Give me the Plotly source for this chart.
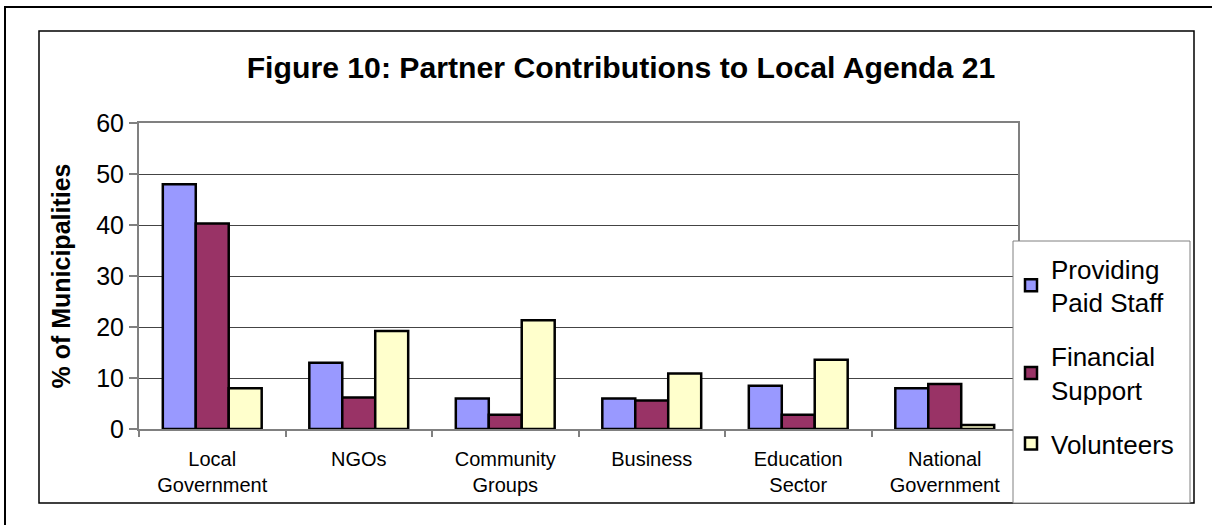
import plotly.graph_objects as go

categories = ["Local<br>Government", "NGOs", "Community<br>Groups", "Business",
              "Education<br>Sector", "National<br>Government"]
paid_staff = [48, 13, 6, 6, 8.5, 8]
financial = [40.3, 6.2, 2.8, 5.6, 2.8, 8.8]
volunteers = [8, 19.2, 21.3, 10.9, 13.6, 0.8]
series_names = ["Providing<br>Paid Staff", "Financial<br>Support", "Volunteers"]
series_colors = ["#9999FF", "#993366", "#FFFFCC"]
y_ticks = [0, 10, 20, 30, 40, 50, 60]

W, H = 1212, 525
L, R, T, B = 139, 1018, 123, 429  # plot area pixel bounds

def px_x(x):
    return (x - L) / (R - L)

def px_y(y):
    return (B - y) / (B - T)

FONT = "Liberation Sans, Arial, sans-serif"

fig = go.Figure()
for name, vals, col in zip(series_names, [paid_staff, financial, volunteers], series_colors):
    fig.add_trace(go.Bar(
        x=categories, y=vals, name=name, legendgroup=name,
        marker=dict(color=col, line=dict(color="#000000", width=2.5)),
    ))

shapes = [
    # outer border
    dict(type="rect", xref="paper", yref="paper", x0=px_x(5), x1=px_x(1230),
         y0=px_y(560), y1=px_y(7), line=dict(color="#000000", width=2), layer="below"),
    # inner chart border
    dict(type="rect", xref="paper", yref="paper", x0=px_x(39), x1=px_x(1194),
         y0=px_y(503), y1=px_y(31), line=dict(color="#000000", width=1.5), layer="below"),
    # legend box
    dict(type="rect", xref="paper", yref="paper", x0=px_x(1013), x1=px_x(1190),
         y0=px_y(503), y1=px_y(241), line=dict(color="#808080", width=1),
         fillcolor="#FFFFFF", layer="above"),
]

fig.update_layout(
    width=W, height=H,
    margin=dict(l=L, r=W - R, t=T, b=H - B),
    paper_bgcolor="#FFFFFF", plot_bgcolor="#FFFFFF",
    barmode="group", bargap=0.325, bargroupgap=0,
    font=dict(family=FONT, color="#000000"),
    title=dict(text="<b>Figure 10: Partner Contributions to Local Agenda 21</b>",
               x=621 / W, xanchor="center",
               y=1 - 67 / H, yanchor="middle",
               font=dict(family=FONT, size=30.2, color="#000000")),
    xaxis=dict(
        type="category", tickson="boundaries", ticks="outside", ticklen=6,
        tickcolor="#808080", tickwidth=1.5, ticklabelstandoff=11,
        showline=True, linecolor="#808080", linewidth=2, mirror=True,
        tickfont=dict(family=FONT, size=20, color="#000000"),
        showgrid=False,
    ),
    yaxis=dict(
        range=[0, 60], tickvals=y_ticks, ticks="outside", ticklen=8,
        tickcolor="#808080", tickwidth=1.5,
        showline=True, linecolor="#808080", linewidth=2, mirror=True,
        showgrid=True, gridcolor="#444444", gridwidth=1,
        tickfont=dict(family=FONT, size=25, color="#000000"),
        title=dict(text="<b>% of Municipalities</b>", standoff=18,
                   font=dict(family=FONT, size=25, color="#000000")),
        zeroline=False,
    ),
    legend=dict(
        x=px_x(1011), y=px_y(245), xanchor="left", yanchor="top",
        bgcolor="rgba(0,0,0,0)", borderwidth=0,
        font=dict(family=FONT, size=26, color="#000000"),
        tracegroupgap=17, traceorder="grouped",
    ),
    shapes=shapes,
)

fig.write_html("out.html", config={"displayModeBar": False},
               post_script="document.body.style.margin='0';")
